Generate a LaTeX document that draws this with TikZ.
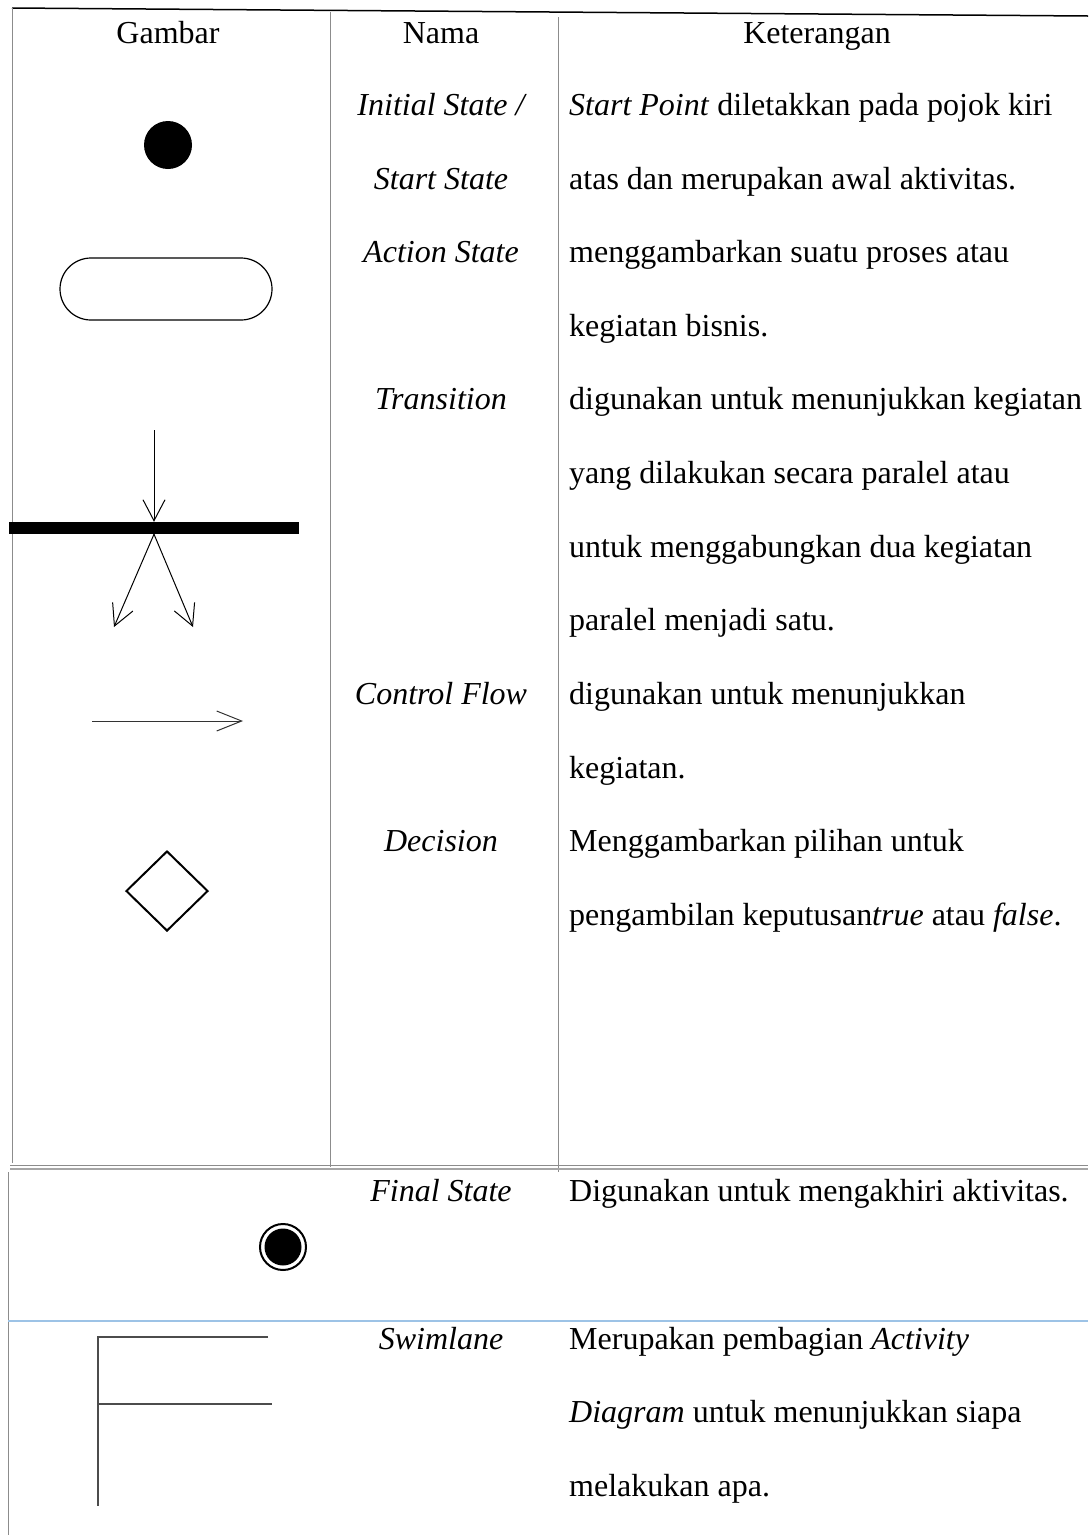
\documentclass[tikz,border=0pt]{standalone}
\usepackage{fontspec}
\setmainfont{Liberation Serif}
\usetikzlibrary{arrows.meta,shapes.geometric,shapes.misc}
\definecolor{lineblue}{RGB}{157,195,230}
\begin{document}
\begin{tikzpicture}[x=1pt,y=-1pt,
  tline/.style={draw=black!45,line width=1pt},
  txt/.style={inner sep=0pt,font=\fontsize{32}{37}\selectfont},
  hd/.style={txt,anchor=base},
  nm/.style={inner sep=0pt,anchor=base,font=\fontsize{32}{37}\selectfont\itshape},
  kt/.style={txt,anchor=base west},
  flowA/.style={-{Straight Barb[length=21pt,width=22pt]},line width=1pt},
  flowB/.style={-{Straight Barb[length=25pt,width=20pt]},line width=1pt,draw=black!80},
  swim/.style={draw=black!70,line width=1.5pt},
]
\useasboundingbox (0,0) rectangle (1088,1535);
% table lines
\draw[line width=1.5pt] (12,8) -- (1088,16);
\draw[tline] (12,8) -- (12,1163);
\draw[tline] (330,12) -- (330,1167);
\draw[tline] (558,17) -- (558,1172);
\draw[tline] (10,1165) -- (1088,1165);
\draw[draw=black!35,line width=1.2pt] (10,1169) -- (1088,1169);
\draw[tline] (8,1172) -- (8,1535);
\draw[draw=lineblue,line width=2pt] (8,1321) -- (1088,1321);
% header
\node[hd] (h1) at (168,43) {Gambar};
\node[hd] (h2) at (441,43) {Nama};
\node[hd] (h3) at (817,43) {Keterangan};
% symbols
\node[circle,fill,minimum size=48pt,inner sep=0pt] (init) at (168,145) {};
\node[rounded rectangle,draw,line width=1.2pt,minimum width=212pt,minimum height=62pt,inner sep=0pt] (action) at (166,289) {};
\coordinate (tin) at (154,430);
\node[rectangle,fill,minimum width=290pt,minimum height=12pt,inner sep=0pt] (bar) at (154,528) {};
\coordinate (tl) at (114,627);
\coordinate (tr) at (193,627);
\draw[flowA] (tin) -- (bar.north);
\draw[flowA] (bar.south) -- (tl);
\draw[flowA] (bar.south) -- (tr);
\coordinate (cf1) at (92,721);
\coordinate (cf2) at (243,721);
\draw[flowB] (cf1) -- (cf2);
\node[diamond,draw,line width=2pt,minimum width=82pt,minimum height=80pt,inner sep=0pt] (dec) at (167,891) {};
\node[circle,draw,line width=2pt,minimum size=46pt,inner sep=0pt] (final) at (283,1247) {};
\node[circle,fill,minimum size=37pt,inner sep=0pt] (finalin) at (final) {};
\coordinate (s1) at (98,1337);
\coordinate (s2) at (268,1337);
\coordinate (s3) at (98,1404);
\coordinate (s4) at (272,1404);
\coordinate (s5) at (98,1506);
\draw[swim] (s2) -- (s1) -- (s5);
\draw[swim] (s3) -- (s4);
% nama column
\node[nm] (n1) at (441,115) {Initial State /};
\node[nm] (n2) at (441,189) {Start State};
\node[nm] (n3) at (441,262) {Action State};
\node[nm] (n4) at (441,409) {Transition};
\node[nm] (n5) at (441,704) {Control Flow};
\node[nm] (n6) at (441,851) {Decision};
\node[nm] (n7) at (441,1201) {Final State};
\node[nm] (n8) at (441,1349) {Swimlane};
% keterangan column
\node[kt] (k1) at (569,115) {\textit{Start Point} diletakkan pada pojok kiri};
\node[kt] (k2) at (569,189) {atas dan merupakan awal aktivitas.};
\node[kt] (k3) at (569,262) {menggambarkan suatu proses atau};
\node[kt] (k4) at (569,336) {kegiatan bisnis.};
\node[kt] (k5) at (569,409) {digunakan untuk menunjukkan kegiatan};
\node[kt] (k6) at (569,483) {yang dilakukan secara paralel atau};
\node[kt] (k7) at (569,557) {untuk menggabungkan dua kegiatan};
\node[kt] (k8) at (569,630) {paralel menjadi satu.};
\node[kt] (k9) at (569,704) {digunakan untuk menunjukkan};
\node[kt] (k10) at (569,778) {kegiatan.};
\node[kt] (k11) at (569,851) {Menggambarkan pilihan untuk};
\node[kt] (k12) at (569,925) {pengambilan keputusan\textit{true} atau \textit{false}.};
\node[kt] (k13) at (569,1201) {Digunakan untuk mengakhiri aktivitas.};
\node[kt] (k14) at (569,1349) {Merupakan pembagian \textit{Activity}};
\node[kt] (k15) at (569,1422) {\textit{Diagram} untuk menunjukkan siapa};
\node[kt] (k16) at (569,1496) {melakukan apa.};
\end{tikzpicture}
\end{document}
